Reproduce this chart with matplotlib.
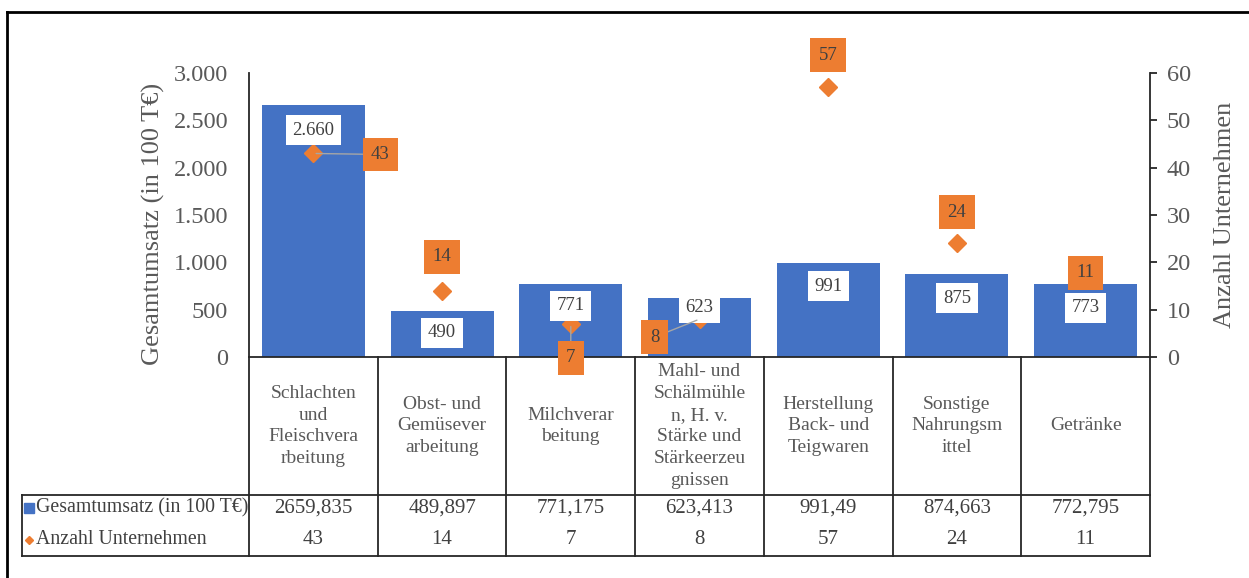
import matplotlib
matplotlib.use('Agg')
import matplotlib.pyplot as plt
from matplotlib.lines import Line2D
from matplotlib.ticker import FuncFormatter, MultipleLocator
from matplotlib.transforms import blended_transform_factory

plt.rcParams['font.family'] = ['Liberation Serif', 'DejaVu Serif']

# Daten
kategorien = ['Schlachten\nund\nFleischvera\nrbeitung', 'Obst- und\nGemüsever\narbeitung',
              'Milchverar\nbeitung',
              'Mahl- und\nSchälmühle\nn, H. v.\nStärke und\nStärkeerzeu\ngnissen',
              'Herstellung\nBack- und\nTeigwaren', 'Sonstige\nNahrungsm\nittel', 'Getränke']
umsatz = [2659.835, 489.897, 771.175, 623.413, 991.49, 874.663, 772.795]
anzahl = [43, 14, 7, 8, 57, 24, 11]
reihe_umsatz = 'Gesamtumsatz (in 100 T€)'
reihe_anzahl = 'Anzahl Unternehmen'

BLAU = '#4472C4'
ORANGE = '#ED7D31'
GRAU = '#595959'
TXT = '#404040'

W, H = 1249, 578
fig = plt.figure(figsize=(W / 100, H / 100), dpi=100)
ax = fig.add_axes([249 / W, 221 / H, 901 / W, 284 / H])
ax2 = ax.twinx()

x = list(range(len(umsatz)))
ax.bar(x, umsatz, width=0.8, color=BLAU, zorder=2)
ax.set_xlim(-0.5, len(umsatz) - 0.5)
ax.set_ylim(0, 3000)
ax.yaxis.set_major_locator(MultipleLocator(500))
ax.yaxis.set_major_formatter(FuncFormatter(lambda v, p: f'{int(v):,}'.replace(',', '.')))
ax.set_xticks([])
ax.tick_params(axis='y', length=0, pad=15, labelsize=17.5, labelcolor=GRAU)
for s in ['top', 'right']:
    ax.spines[s].set_visible(False)
ax.spines['left'].set_color('#262626')
ax.spines['bottom'].set_color('#262626')
ax.spines['left'].set_linewidth(1.3)
ax.spines['bottom'].set_linewidth(1.3)
ax.set_ylabel(reihe_umsatz, fontsize=19, color=GRAU)
ax.yaxis.set_label_coords(-0.093, 0.47)

ax2.plot(x, anzahl, linestyle='none', marker='D', markersize=9, color=ORANGE, zorder=3)
ax2.set_ylim(0, 60)
ax2.yaxis.set_major_locator(MultipleLocator(10))
ax2.tick_params(axis='y', length=5, width=1.3, pad=7, labelsize=17.5, labelcolor=GRAU, color='#262626')
for s in ['top', 'left', 'bottom']:
    ax2.spines[s].set_visible(False)
ax2.spines['right'].set_color('#262626')
ax2.spines['right'].set_linewidth(1.3)
ax2.set_ylabel(reihe_anzahl, fontsize=19, color=GRAU, rotation=90)
ax2.yaxis.set_label_coords(1.071, 0.50)

# Datenbeschriftungen Balken (weiße Boxen)
off_balken = [-25, -22, -22, -10, -23, -24, -24]
for i, v in enumerate(umsatz):
    ax2.annotate(f'{round(v):,}'.replace(',', '.'), xy=(i, v), xycoords=ax.transData,
                 xytext=(0, off_balken[i]), textcoords='offset pixels',
                 ha='center', va='center', fontsize=13.5, color=TXT, zorder=5,
                 bbox=dict(boxstyle='square,pad=0.35', fc='white', ec='none'))

# Datenbeschriftungen Anzahl (orange Boxen)
off_anzahl = [(67, -1), (0, 34), (0, -34), (-45, -18), (0, 32), (0, 31), (0, 32)]
fuehrung = [True, False, True, True, False, False, False]
for i, v in enumerate(anzahl):
    arrow = dict(arrowstyle='-', color='#A6A6A6', lw=1, shrinkA=0, shrinkB=2) if fuehrung[i] else None
    ax2.annotate(str(v), xy=(i, v), xytext=off_anzahl[i], textcoords='offset pixels',
                 ha='center', va='center', fontsize=13.5, color=TXT, zorder=6,
                 bbox=dict(boxstyle='square,pad=0.45', fc=ORANGE, ec='none'),
                 arrowprops=arrow)

# Datentabelle unter dem Diagramm
tr = blended_transform_factory(ax.transData, ax.transAxes)
y_kopf = (357 - 495) / 284
y_unten = (357 - 556) / 284
y_r1 = (357 - 508) / 284
y_r2 = (357 - 540) / 284
y_kat = (357 - 426) / 284
x_links = (22 - 249) / 901
lkw = dict(color='#262626', lw=1.3, clip_on=False)

for i in range(len(umsatz) + 1):
    ax.plot([i - 0.5, i - 0.5], [0, y_unten], transform=tr, **lkw)
ax.plot([x_links, 1], [y_kopf, y_kopf], transform=ax.transAxes, **lkw)
ax.plot([x_links, 1], [y_unten, y_unten], transform=ax.transAxes, **lkw)
ax.plot([x_links, x_links], [y_kopf, y_unten], transform=ax.transAxes, **lkw)

for i, k in enumerate(kategorien):
    ax.text(i, y_kat, k, transform=tr, ha='center', va='center', fontsize=14,
            color=GRAU, linespacing=1.36, clip_on=False)
    ax.text(i, y_r1, f'{umsatz[i]}'.replace('.', ','), transform=tr, ha='center', va='center',
            fontsize=15, color=TXT, clip_on=False)
    ax.text(i, y_r2, str(anzahl[i]), transform=tr, ha='center', va='center',
            fontsize=15, color=TXT, clip_on=False)

x_m = (29 - 249) / 901
x_t = (36 - 249) / 901
ax.plot([x_m], [y_r1], marker='s', markersize=7.5, color=BLAU, transform=ax.transAxes, clip_on=False)
ax.plot([x_m], [y_r2], marker='D', markersize=4.5, color=ORANGE, transform=ax.transAxes, clip_on=False)
ax.text(x_t, y_r1, reihe_umsatz, transform=ax.transAxes, ha='left', va='center',
        fontsize=14.3, color=TXT, clip_on=False)
ax.text(x_t, y_r2, reihe_anzahl, transform=ax.transAxes, ha='left', va='center',
        fontsize=14.3, color=TXT, clip_on=False)

# Rahmen
fig.add_artist(Line2D([7 / W, 7 / W], [0, 1 - 12 / H], color='black', lw=2, transform=fig.transFigure))
fig.add_artist(Line2D([7 / W, 1], [1 - 12 / H, 1 - 12 / H], color='black', lw=2, transform=fig.transFigure))

fig.savefig('out.png', dpi=100)
